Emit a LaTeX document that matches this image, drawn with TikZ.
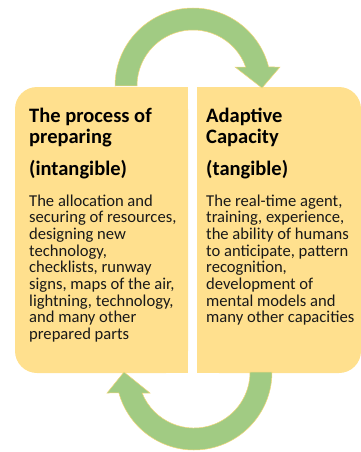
\documentclass[tikz,border=0pt]{standalone}
\usepackage{fontspec}
\setmainfont{Carlito}
\usetikzlibrary{positioning}

\definecolor{boxyellow}{HTML}{FFE08E}
\definecolor{arrowgreen}{HTML}{A1CB83}
\definecolor{arrowedge}{HTML}{F4D77A}

\newcommand{\headsize}{\fontsize{20.5}{21}\selectfont\bfseries}
\newcommand{\bodysize}{\fontsize{16.6}{16.7}\selectfont}

\begin{document}
\begin{tikzpicture}
  [
    x = 1pt, y = 1pt,
    panel/.style = {fill = boxyellow},
    loop arrow/.style = {fill = arrowgreen, draw = arrowedge, line width = 0.5pt},
    every node/.style = {inner sep = 0pt, align = left, anchor = base west},
    head/.style = {font = \headsize},
    body/.style = {font = \bodysize, text = black!90}
  ]
  \useasboundingbox (0,0) rectangle (361,-452);

  % two panels, rounded on the outer side only
  \fill[panel, rounded corners = 22pt] (15,-87) rectangle (188,-373);
  \fill[panel] (120,-87) rectangle (188,-373);
  \fill[panel, rounded corners = 22pt] (197,-87) rectangle (361,-373);
  \fill[panel] (197,-87) rectangle (260,-373);

  % upper arrow: left panel over to right panel
  \filldraw[loop arrow] (115,-86) arc [start angle = 180, end angle = 14.1, radius = 78]
    -- (280,-67) -- (262,-88) -- (235,-67) -- (245.7,-67)
    arc [start angle = 19.8, end angle = 180, radius = 56] -- cycle;

  % lower arrow: right panel back to left panel
  \filldraw[loop arrow] (272,-372) arc [start angle = 0, end angle = -164.4, radius = 78]
    -- (107,-393) -- (124,-372) -- (150,-393) -- (142.1,-393)
    arc [start angle = -158, end angle = 0, radius = 56] -- cycle;

  % left panel text (base = last line of each node)
  \node[head] (prepHead) at (29,-143) {The process of\\preparing};
  \node[head] (prepTag)  at (29,-175) {(intangible)};
  \node[body] (prepBody) at (29,-339.6)
    {The allocation and\\securing of resources,\\designing new\\technology,\\checklists, runway\\signs, maps of the air,\\lightning, technology,\\and many other\\prepared parts};

  % right panel text
  \node[head] (capHead) at (206,-143) {Adaptive\\Capacity};
  \node[head] (capTag)  at (206,-175) {(tangible)};
  \node[body] (capBody) at (206,-322.9)
    {The real-time agent,\\training, experience,\\the ability of humans\\to anticipate, pattern\\recognition,\\development of\\mental models and\\many other capacities};
\end{tikzpicture}
\end{document}
